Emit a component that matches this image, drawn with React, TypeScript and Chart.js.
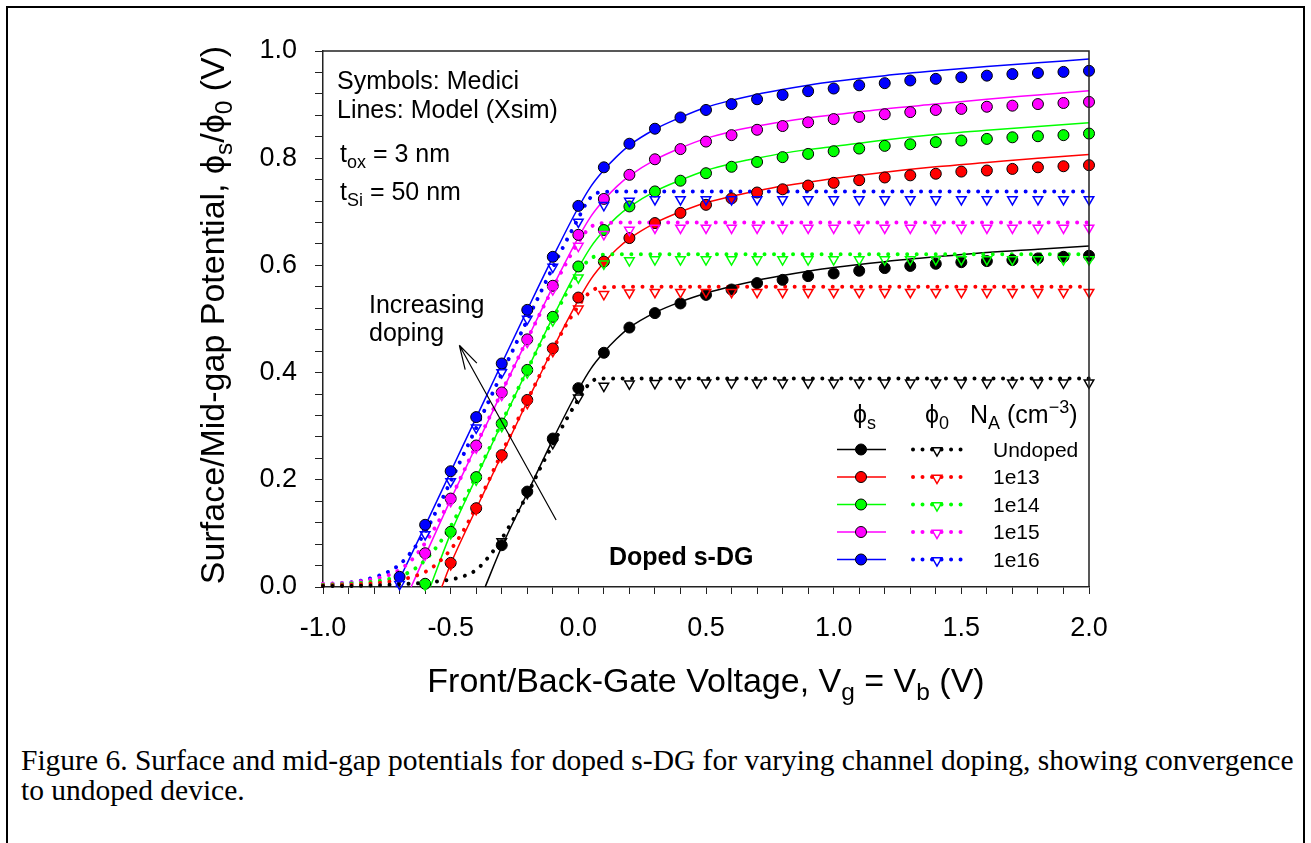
import React, { useEffect, useRef } from 'react';
import { Chart, registerables } from 'chart.js';
Chart.register(...registerables);

// ---------- data ----------
const MEDICI_X = [-1.0, -0.9, -0.8, -0.7, -0.6, -0.5, -0.4, -0.3, -0.2, -0.1, 0.0, 0.1, 0.2, 0.3, 0.4, 0.5, 0.6, 0.7, 0.8, 0.9, 1.0, 1.1, 1.2, 1.3, 1.4, 1.5, 1.6, 1.7, 1.8, 1.9, 2.0];

const N = null;
// Medici phi_s (circles)
const MED_S_UNDOPED = [N, N, N, N, N, N, N, 0.078, 0.178, 0.277, 0.371, 0.437, 0.484, 0.511, 0.529, 0.545, 0.555, 0.567, 0.573, 0.580, 0.585, 0.590, 0.595, 0.599, 0.603, 0.606, 0.608, 0.610, 0.613, 0.616, 0.618];
const MED_S_1E13 = [N, N, N, N, N, 0.045, 0.147, 0.246, 0.349, 0.445, 0.540, 0.607, 0.651, 0.679, 0.698, 0.713, 0.725, 0.736, 0.742, 0.749, 0.754, 0.759, 0.764, 0.768, 0.771, 0.775, 0.777, 0.780, 0.783, 0.785, 0.787];
const MED_S_1E14 = [N, N, N, N, 0.006, 0.103, 0.205, 0.305, 0.405, 0.504, 0.598, 0.666, 0.710, 0.738, 0.758, 0.772, 0.784, 0.793, 0.802, 0.808, 0.813, 0.818, 0.823, 0.826, 0.830, 0.833, 0.836, 0.839, 0.841, 0.843, 0.846];
const MED_S_1E15 = [N, N, N, N, 0.063, 0.165, 0.264, 0.363, 0.462, 0.562, 0.657, 0.724, 0.769, 0.798, 0.817, 0.831, 0.843, 0.853, 0.860, 0.867, 0.873, 0.877, 0.882, 0.886, 0.890, 0.892, 0.896, 0.898, 0.901, 0.903, 0.905];
const MED_S_1E16 = [N, N, N, 0.019, 0.116, 0.216, 0.317, 0.417, 0.517, 0.616, 0.711, 0.783, 0.827, 0.855, 0.876, 0.890, 0.901, 0.910, 0.918, 0.925, 0.930, 0.936, 0.940, 0.945, 0.948, 0.951, 0.954, 0.957, 0.959, 0.961, 0.963];

// Medici phi_0 (triangles)
const MED_0_UNDOPED = [N, N, N, N, N, N, N, 0.085, 0.175, 0.268, 0.353, 0.375, 0.379, 0.380, 0.381, 0.381, 0.381, 0.381, 0.381, 0.381, 0.381, 0.381, 0.381, 0.381, 0.381, 0.381, 0.381, 0.381, 0.381, 0.381, 0.381];
const MED_0_1E13 = [N, N, N, N, N, 0.042, 0.145, 0.243, 0.343, 0.440, 0.519, 0.546, 0.549, 0.550, 0.550, 0.550, 0.550, 0.550, 0.550, 0.550, 0.550, 0.550, 0.550, 0.550, 0.550, 0.550, 0.550, 0.550, 0.550, 0.550, 0.550];
const MED_0_1E14 = [N, N, N, N, 0.004, 0.100, 0.200, 0.300, 0.400, 0.497, 0.577, 0.603, 0.609, 0.611, 0.611, 0.611, 0.611, 0.611, 0.611, 0.611, 0.611, 0.611, 0.611, 0.611, 0.611, 0.611, 0.611, 0.611, 0.611, 0.611, 0.611];
const MED_0_1E15 = [N, N, N, N, 0.060, 0.160, 0.260, 0.358, 0.457, 0.555, 0.636, 0.658, 0.666, 0.670, 0.670, 0.670, 0.670, 0.670, 0.670, 0.670, 0.670, 0.670, 0.670, 0.670, 0.670, 0.670, 0.670, 0.670, 0.670, 0.670, 0.670];
const MED_0_1E16 = [N, N, N, 0.005, 0.098, 0.197, 0.297, 0.400, 0.500, 0.597, 0.681, 0.712, 0.720, 0.723, 0.723, 0.723, 0.723, 0.723, 0.723, 0.723, 0.723, 0.723, 0.723, 0.723, 0.723, 0.723, 0.723, 0.723, 0.723, 0.723, 0.723];

// Model phi_s (solid lines)
const MOD_S_UNDOPED_X = [-0.365, -0.3, -0.2, -0.1, 0.0, 0.05, 0.1, 0.15, 0.2, 0.3, 0.4, 0.5, 0.6, 0.7, 0.8, 0.9, 1.0, 1.2, 1.4, 1.6, 1.8, 2.0];
const MOD_S_UNDOPED_Y = [0.0, 0.075, 0.175, 0.275, 0.368, 0.408, 0.438, 0.463, 0.484, 0.512, 0.532, 0.548, 0.561, 0.572, 0.581, 0.589, 0.596, 0.607, 0.616, 0.624, 0.630, 0.636];
const MOD_S_1E13_X = [-0.535, -0.5, -0.4, -0.3, -0.2, -0.1, 0.0, 0.05, 0.1, 0.15, 0.2, 0.3, 0.4, 0.5, 0.6, 0.7, 0.8, 0.9, 1.0, 1.2, 1.4, 1.6, 1.8, 2.0];
const MOD_S_1E13_Y = [0.0, 0.043, 0.146, 0.246, 0.346, 0.444, 0.535, 0.575, 0.605, 0.630, 0.650, 0.679, 0.700, 0.717, 0.729, 0.739, 0.748, 0.755, 0.762, 0.774, 0.784, 0.792, 0.800, 0.807];
const MOD_S_1E14_X = [-0.58, -0.5, -0.4, -0.3, -0.2, -0.1, 0.0, 0.05, 0.1, 0.15, 0.2, 0.3, 0.4, 0.5, 0.6, 0.7, 0.8, 0.9, 1.0, 1.2, 1.4, 1.6, 1.8, 2.0];
const MOD_S_1E14_Y = [0.0, 0.100, 0.204, 0.305, 0.405, 0.503, 0.595, 0.635, 0.665, 0.690, 0.709, 0.738, 0.759, 0.777, 0.790, 0.800, 0.809, 0.816, 0.822, 0.834, 0.844, 0.852, 0.859, 0.866];
const MOD_S_1E15_X = [-0.655, -0.6, -0.5, -0.4, -0.3, -0.2, -0.1, 0.0, 0.05, 0.1, 0.15, 0.2, 0.3, 0.4, 0.5, 0.6, 0.7, 0.8, 0.9, 1.0, 1.2, 1.4, 1.6, 1.8, 2.0];
const MOD_S_1E15_Y = [0.0, 0.058, 0.163, 0.263, 0.363, 0.462, 0.560, 0.652, 0.692, 0.722, 0.747, 0.767, 0.797, 0.819, 0.837, 0.850, 0.860, 0.868, 0.875, 0.881, 0.892, 0.901, 0.910, 0.918, 0.926];
const MOD_S_1E16_X = [-0.715, -0.7, -0.6, -0.5, -0.4, -0.3, -0.2, -0.1, 0.0, 0.05, 0.1, 0.15, 0.2, 0.3, 0.4, 0.5, 0.6, 0.7, 0.8, 0.9, 1.0, 1.2, 1.4, 1.6, 1.8, 2.0];
const MOD_S_1E16_Y = [0.0, 0.015, 0.114, 0.215, 0.316, 0.417, 0.517, 0.615, 0.708, 0.748, 0.778, 0.803, 0.824, 0.854, 0.876, 0.895, 0.908, 0.919, 0.928, 0.936, 0.943, 0.954, 0.963, 0.971, 0.978, 0.985];

// Model phi_0 (dotted lines)
const MOD_0_UNDOPED_X = [-1.0, -0.9, -0.8, -0.7, -0.6, -0.5, -0.45, -0.4, -0.35, -0.3, -0.25, -0.2, -0.15, -0.1, -0.05, 0.0, 0.03, 0.06, 0.1, 0.2, 0.5, 1.0, 1.5, 2.0];
const MOD_0_UNDOPED_Y = [0.002, 0.002, 0.003, 0.005, 0.008, 0.014, 0.020, 0.032, 0.057, 0.090, 0.130, 0.172, 0.221, 0.266, 0.310, 0.350, 0.372, 0.386, 0.389, 0.389, 0.389, 0.389, 0.389, 0.389];
const MOD_0_1E13_X = [-1.0, -0.9, -0.8, -0.7, -0.65, -0.6, -0.55, -0.5, -0.45, -0.4, -0.3, -0.2, -0.1, -0.05, 0.0, 0.03, 0.06, 0.1, 0.2, 0.5, 1.0, 1.5, 2.0];
const MOD_0_1E13_Y = [0.003, 0.004, 0.007, 0.013, 0.019, 0.028, 0.045, 0.070, 0.105, 0.150, 0.250, 0.348, 0.443, 0.487, 0.524, 0.543, 0.555, 0.559, 0.560, 0.560, 0.560, 0.560, 0.560];
const MOD_0_1E14_X = [-1.0, -0.9, -0.8, -0.75, -0.7, -0.65, -0.6, -0.55, -0.5, -0.4, -0.3, -0.2, -0.1, -0.05, 0.0, 0.03, 0.06, 0.1, 0.2, 0.5, 1.0, 1.5, 2.0];
const MOD_0_1E14_Y = [0.004, 0.006, 0.010, 0.014, 0.020, 0.031, 0.050, 0.078, 0.113, 0.208, 0.307, 0.405, 0.500, 0.545, 0.585, 0.605, 0.616, 0.620, 0.621, 0.621, 0.621, 0.621, 0.621];
const MOD_0_1E15_X = [-1.0, -0.9, -0.8, -0.75, -0.7, -0.65, -0.6, -0.55, -0.5, -0.4, -0.3, -0.2, -0.1, -0.05, 0.0, 0.03, 0.06, 0.1, 0.2, 0.5, 1.0, 1.5, 2.0];
const MOD_0_1E15_Y = [0.006, 0.008, 0.015, 0.021, 0.032, 0.052, 0.082, 0.120, 0.165, 0.265, 0.364, 0.462, 0.557, 0.602, 0.643, 0.663, 0.675, 0.679, 0.680, 0.680, 0.680, 0.680, 0.680];
const MOD_0_1E16_X = [-1.0, -0.9, -0.85, -0.8, -0.75, -0.7, -0.65, -0.6, -0.55, -0.5, -0.4, -0.3, -0.2, -0.1, -0.05, 0.0, 0.03, 0.06, 0.1, 0.2, 0.5, 1.0, 1.5, 2.0];
const MOD_0_1E16_Y = [0.005, 0.008, 0.012, 0.018, 0.027, 0.042, 0.068, 0.102, 0.148, 0.197, 0.297, 0.398, 0.498, 0.596, 0.643, 0.688, 0.715, 0.732, 0.737, 0.738, 0.738, 0.738, 0.738, 0.738];

const SERIES_LABELS = ['Undoped', '1e13', '1e14', '1e15', '1e16'];
const COLORS = ['#000000', '#ff0000', '#00ff00', '#ff00ff', '#0000ff'];
const MED_S = [MED_S_UNDOPED, MED_S_1E13, MED_S_1E14, MED_S_1E15, MED_S_1E16];
const MED_0 = [MED_0_UNDOPED, MED_0_1E13, MED_0_1E14, MED_0_1E15, MED_0_1E16];
const MOD_S = [[MOD_S_UNDOPED_X, MOD_S_UNDOPED_Y], [MOD_S_1E13_X, MOD_S_1E13_Y], [MOD_S_1E14_X, MOD_S_1E14_Y], [MOD_S_1E15_X, MOD_S_1E15_Y], [MOD_S_1E16_X, MOD_S_1E16_Y]];
const MOD_0 = [[MOD_0_UNDOPED_X, MOD_0_UNDOPED_Y], [MOD_0_1E13_X, MOD_0_1E13_Y], [MOD_0_1E14_X, MOD_0_1E14_Y], [MOD_0_1E15_X, MOD_0_1E15_Y], [MOD_0_1E16_X, MOD_0_1E16_Y]];

// ---------- drawing helpers ----------
const SANS = "'Liberation Sans', Arial, Helvetica, sans-serif";
const PHI = '\u03D5';
type Seg = { t: string; s?: 'sub' | 'sup' };

function segFont(size: number, seg: Seg, weight: string) {
  const fs = seg.s ? size * 0.72 : size;
  return `${weight} ${fs}px ${SANS}`;
}
function richWidth(ctx: CanvasRenderingContext2D, segs: Seg[], size: number, weight = '') {
  let w = 0;
  for (const s of segs) { ctx.font = segFont(size, s, weight); w += ctx.measureText(s.t).width; }
  return w;
}
function drawRich(ctx: CanvasRenderingContext2D, segs: Seg[], x: number, y: number, size: number, align: 'left' | 'center' = 'left', weight = '') {
  const w = richWidth(ctx, segs, size, weight);
  let cx = align === 'center' ? x - w / 2 : x;
  ctx.textAlign = 'left';
  ctx.textBaseline = 'alphabetic';
  ctx.fillStyle = '#000';
  for (const s of segs) {
    ctx.font = segFont(size, s, weight);
    const dy = s.s === 'sub' ? size * 0.24 : s.s === 'sup' ? -size * 0.42 : 0;
    ctx.fillText(s.t, cx, y + dy);
    cx += ctx.measureText(s.t).width;
  }
}

function drawTriangleDown(ctx: CanvasRenderingContext2D, x: number, y: number, r: number, color: string) {
  ctx.beginPath();
  for (let k = 0; k < 3; k++) {
    const a = Math.PI + k * (2 * Math.PI / 3);
    const px = x + Math.sin(a) * r;
    const py = y - Math.cos(a) * r;
    if (k === 0) ctx.moveTo(px, py); else ctx.lineTo(px, py);
  }
  ctx.closePath();
  ctx.strokeStyle = color;
  ctx.lineWidth = 1.5;
  ctx.stroke();
}

const annotPlugin = {
  id: 'annot',
  afterDraw(chart: any) {
    const ctx: CanvasRenderingContext2D = chart.ctx;
    const { left, right, top, bottom } = chart.chartArea;
    const xs = chart.scales.x;
    const ys = chart.scales.y;
    ctx.save();
    // top & right frame of plot
    ctx.strokeStyle = '#222';
    ctx.lineWidth = 1.5;
    ctx.beginPath();
    ctx.moveTo(left, top);
    ctx.lineTo(right, top);
    ctx.lineTo(right, bottom);
    ctx.stroke();

    // axis titles
    ctx.save();
    ctx.translate(224, (top + bottom) / 2 - 4);
    ctx.rotate(-Math.PI / 2);
    drawRich(ctx, [{ t: 'Surface/Mid-gap Potential, ' + PHI }, { t: 's', s: 'sub' }, { t: '/' + PHI }, { t: '0', s: 'sub' }, { t: ' (V)' }], 0, 0, 34, 'center');
    ctx.restore();
    drawRich(ctx, [{ t: 'Front/Back-Gate Voltage, V' }, { t: 'g', s: 'sub' }, { t: ' = V' }, { t: 'b', s: 'sub' }, { t: ' (V)' }], (left + right) / 2, 692, 34, 'center');

    // text annotations
    drawRich(ctx, [{ t: 'Symbols: Medici' }], 337, 89, 25);
    drawRich(ctx, [{ t: 'Lines: Model (Xsim)' }], 337, 118, 25);
    drawRich(ctx, [{ t: 't' }, { t: 'ox', s: 'sub' }, { t: ' = 3 nm' }], 340, 162, 25);
    drawRich(ctx, [{ t: 't' }, { t: 'Si', s: 'sub' }, { t: ' = 50 nm' }], 340, 200, 25);
    drawRich(ctx, [{ t: 'Increasing' }], 369, 313, 25);
    drawRich(ctx, [{ t: 'doping' }], 369, 341, 25);
    drawRich(ctx, [{ t: 'Doped s-DG' }], 609, 565, 25, 'left', 'bold');

    // arrow
    const x0 = xs.getPixelForValue(-0.087), y0 = ys.getPixelForValue(0.125);
    const x1 = xs.getPixelForValue(-0.466), y1 = ys.getPixelForValue(0.451);
    ctx.strokeStyle = '#000';
    ctx.lineWidth = 1.2;
    ctx.beginPath();
    ctx.moveTo(x0, y0);
    ctx.lineTo(x1, y1);
    const ang = Math.atan2(y0 - y1, x0 - x1);
    for (const d of [-0.27, 0.27]) {
      ctx.moveTo(x1, y1);
      ctx.lineTo(x1 + Math.cos(ang + d) * 25, y1 + Math.sin(ang + d) * 25);
    }
    ctx.stroke();

    // legend
    drawRich(ctx, [{ t: PHI }, { t: 's', s: 'sub' }], 853, 423, 25);
    drawRich(ctx, [{ t: PHI }, { t: '0', s: 'sub' }], 925, 423, 25);
    drawRich(ctx, [{ t: 'N' }, { t: 'A', s: 'sub' }, { t: ' (cm' }, { t: '\u22123', s: 'sup' }, { t: ')' }], 970, 423, 25);
    for (let i = 0; i < 5; i++) {
      const ly = 449.5 + i * 27.5;
      const c = COLORS[i];
      ctx.setLineDash([]);
      ctx.strokeStyle = c;
      ctx.lineWidth = 1.5;
      ctx.beginPath();
      ctx.moveTo(837, ly);
      ctx.lineTo(886, ly);
      ctx.stroke();
      ctx.beginPath();
      ctx.arc(861, ly, 5.5, 0, Math.PI * 2);
      ctx.fillStyle = c;
      ctx.fill();
      ctx.strokeStyle = '#000';
      ctx.lineWidth = 1;
      ctx.stroke();
      ctx.save();
      ctx.setLineDash([0.01, 9.5]);
      ctx.lineCap = 'round';
      ctx.lineWidth = 4;
      ctx.strokeStyle = c;
      ctx.beginPath();
      ctx.moveTo(913, ly);
      ctx.lineTo(964, ly);
      ctx.stroke();
      ctx.restore();
      drawTriangleDown(ctx, 937, ly + 1, 5.5, c);
      drawRich(ctx, [{ t: SERIES_LABELS[i] }], 993, ly + 7, 21);
    }
    ctx.restore();
  },
};

export default function App() {
  const ref = useRef<HTMLCanvasElement>(null);
  useEffect(() => {
    const canvas = ref.current;
    if (!canvas) return;
    const datasets: any[] = [];
    for (let i = 0; i < 5; i++) {
      const c = COLORS[i];
      datasets.push({
        label: SERIES_LABELS[i] + ' model phi_s',
        data: MOD_S[i][0].map((x, k) => ({ x, y: MOD_S[i][1][k] })),
        borderColor: c, borderWidth: 1.5, pointRadius: 0, showLine: true,
        cubicInterpolationMode: 'monotone', order: 3, clip: false,
      });
      datasets.push({
        label: SERIES_LABELS[i] + ' model phi_0',
        data: MOD_0[i][0].map((x, k) => ({ x, y: MOD_0[i][1][k] })),
        borderColor: c, borderWidth: 4, borderDash: [0.01, 9.5], borderCapStyle: 'round',
        pointRadius: 0, showLine: true, cubicInterpolationMode: 'monotone', order: 2, clip: false,
      });
      datasets.push({
        label: SERIES_LABELS[i] + ' Medici phi_s',
        data: MEDICI_X.map((x, k) => ({ x, y: MED_S[i][k] })),
        showLine: false, pointStyle: 'circle', pointRadius: 5.5, pointBackgroundColor: c,
        pointBorderColor: '#000', pointBorderWidth: 1, order: 1, clip: false,
      });
      datasets.push({
        label: SERIES_LABELS[i] + ' Medici phi_0',
        data: MEDICI_X.map((x, k) => ({ x, y: MED_0[i][k] })),
        showLine: false, pointStyle: 'triangle', pointRotation: 180, pointRadius: 5.5,
        pointBackgroundColor: 'rgba(0,0,0,0)', pointBorderColor: c, pointBorderWidth: 1.5, order: 0, clip: false,
      });
    }
    const tickFont = { family: SANS, size: 27 };
    const chart = new Chart(canvas, {
      type: 'line',
      data: { datasets },
      options: {
        animation: false,
        responsive: false,
        devicePixelRatio: 1,
        events: [],
        layout: { padding: { left: 0, right: 222, top: 51, bottom: 0 } },
        plugins: { legend: { display: false }, tooltip: { enabled: false }, title: { display: false } },
        scales: {
          x: {
            type: 'linear', min: -1, max: 2,
            afterFit: (s: any) => { s.height = 153; },
            grid: { drawOnChartArea: false, drawTicks: true, tickLength: 7, tickColor: '#222', tickWidth: 1 },
            border: { display: true, color: '#222', width: 1.5 },
            ticks: {
              stepSize: 0.1, autoSkip: false, maxRotation: 0, padding: 18, color: '#000', font: tickFont,
              callback: (v: any) => {
                const r = Math.round(Number(v) * 10);
                return r % 5 === 0 ? (r / 10).toFixed(1) : '';
              },
            },
          },
          y: {
            type: 'linear', min: 0, max: 1,
            afterFit: (s: any) => { s.width = 323; },
            grid: { drawOnChartArea: false, drawTicks: true, tickLength: 8, tickColor: '#222', tickWidth: 1 },
            border: { display: true, color: '#222', width: 1.5 },
            ticks: {
              stepSize: 0.04, autoSkip: false, padding: 18, color: '#000', font: tickFont,
              callback: (v: any) => {
                const r = Math.round(Number(v) * 100);
                return r % 20 === 0 ? (r / 100).toFixed(1) : '';
              },
            },
          },
        },
      },
      plugins: [annotPlugin],
    } as any);
    return () => chart.destroy();
  }, []);

  return (
    <div style={{ position: 'absolute', left: 0, top: 0, width: 1311, height: 843, background: '#fff', overflow: 'hidden' }}>
      <div style={{ position: 'absolute', left: 6, top: 6, width: 1299, height: 837, boxSizing: 'border-box', borderLeft: '2px solid #000', borderTop: '2px solid #000', borderRight: '2px solid #000' }} />
      <canvas ref={ref} width={1311} height={740} style={{ position: 'absolute', left: 0, top: 0, width: 1311, height: 740 }} />
      <div style={{ position: 'absolute', left: 21, top: 745, fontFamily: "'Liberation Serif', 'Times New Roman', Times, serif", fontSize: 29.5, lineHeight: '30px', whiteSpace: 'nowrap', color: '#000' }}>
        Figure 6. Surface and mid-gap potentials for doped s-DG for varying channel doping, showing convergence
        <br />
        to undoped device.
      </div>
    </div>
  );
}
